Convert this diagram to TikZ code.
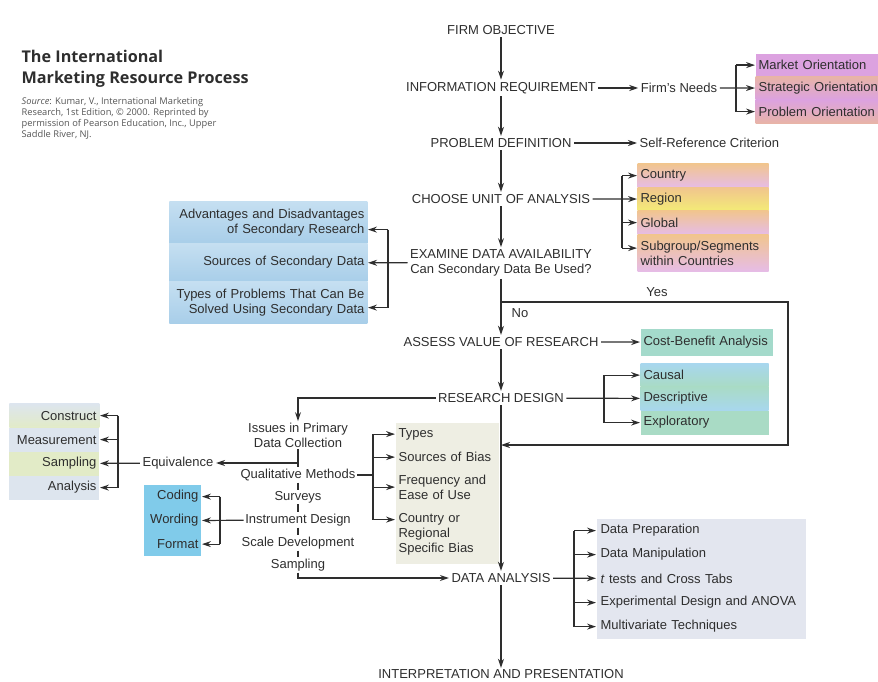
\documentclass[tikz,border=0pt]{standalone}
\usepackage{fontspec}
\setmainfont{Liberation Sans}
\newfontfamily\titlefont{Open Sans}
\usetikzlibrary{arrows.meta,positioning}

\definecolor{ink}{HTML}{2E2E2E}
\definecolor{greyink}{HTML}{555555}
\definecolor{mauve}{HTML}{DCA2E0}
\definecolor{salmon}{HTML}{E8B4A6}
\definecolor{tan}{HTML}{F1C58E}
\definecolor{lilac}{HTML}{E6BCE7}
\definecolor{lemon}{HTML}{F3EB76}
\definecolor{skyblue}{HTML}{A8CEE9}
\definecolor{skylight}{HTML}{C5DFF1}
\definecolor{teal}{HTML}{A4DACB}
\definecolor{seagreen}{HTML}{A9DBC5}
\definecolor{aqua}{HTML}{A8D7EE}
\definecolor{sage}{HTML}{E2EBC7}
\definecolor{mist}{HTML}{DDE5EE}
\definecolor{cyanbox}{HTML}{80CBEA}
\definecolor{beige}{HTML}{EEEEE3}
\definecolor{lavgray}{HTML}{E3E6EF}

\begin{document}
\begin{tikzpicture}[x=1pt, y=-1pt, line width=1.2pt, color=ink, >={Stealth[length=9pt,width=6pt]},
    font=\fontsize{13}{15}\selectfont]
    \tikzstyle{stage} = [inner sep=2pt, align=center]
    \tikzstyle{rowl} = [anchor=north west, align=left, inner xsep=3pt, inner ysep=0pt]
    \tikzstyle{rowr} = [anchor=north east, align=right, inner xsep=3pt, inner ysep=0pt]

    \useasboundingbox (0,0) rectangle (878,682);

    % Titre
    \node[anchor=north west, align=left, inner sep=0pt, font=\titlefont\bfseries\fontsize{16.2}{21}\selectfont] (title) at (21,50) {The International\\Marketing Resource Process};
    \node[anchor=north west, align=left, inner sep=0pt, text=greyink, font=\titlefont\fontsize{9.3}{11}\selectfont] (source) at (21,97) {\textit{Source}: Kumar, V., International Marketing\\Research, 1st Edition, © 2000. Reprinted by\\permission of Pearson Education, Inc., Upper\\Saddle River, NJ.};

    % Colonne principale
    \node[stage] (objective) at (501,30) {FIRM OBJECTIVE};
    \node[stage] (inforeq) at (501,88) {INFORMATION REQUIREMENT};
    \node[stage] (probdef) at (501,143) {PROBLEM DEFINITION};
    \node[stage] (unit) at (501,199) {CHOOSE UNIT OF ANALYSIS};
    \node[stage] (examine) at (501,263) {EXAMINE DATA AVAILABILITY\\Can Secondary Data Be Used?};
    \node[stage] (assess) at (501,342) {ASSESS VALUE OF RESEARCH};
    \node[stage] (design) at (501,398) {RESEARCH DESIGN};
    \node[stage] (analysis) at (501,578) {DATA ANALYSIS};
    \node[stage, inner sep=1pt] (interp) at (501,674) {INTERPRETATION AND PRESENTATION};

    % Besoins de la firme
    \node[stage] (needs) at (679,88) {Firm's Needs};
    \node[rowl, text width=150pt, minimum height=23pt, fill=mauve] (market) at (755,53) {Market Orientation};
    \node[rowl, text width=150pt, minimum height=23pt, top color=salmon, bottom color=mauve] (strategic) at (755,76) {Strategic Orientation};
    \node[rowl, text width=150pt, minimum height=24pt, top color=mauve, bottom color=salmon] (problem) at (755,99) {Problem Orientation};
    \node[stage, anchor=west] (selfref) at (637,143) {Self-Reference Criterion};

    % Unité d'analyse
    \node[rowl, text width=125pt, minimum height=24pt, top color=tan, bottom color=lilac] (country) at (637,163) {Country};
    \node[rowl, text width=125pt, minimum height=23pt, top color=tan, bottom color=lemon] (region) at (637,187) {Region};
    \node[rowl, text width=125pt, minimum height=24pt, top color=tan, bottom color=lilac] (global) at (637,210) {Global};
    \node[rowl, text width=125pt, minimum height=37pt, top color=tan, bottom color=lilac] (subgroup) at (637,234) {Subgroup/Segments\\within Countries};

    % Données secondaires
    \node[rowr, text width=192pt, minimum height=42pt, top color=skylight, bottom color=skyblue] (advantages) at (368,201) {Advantages and Disadvantages\\of Secondary Research};
    \node[rowr, text width=192pt, minimum height=38pt, top color=skylight, bottom color=skyblue] (sources) at (368,243) {Sources of Secondary Data};
    \node[rowr, text width=192pt, minimum height=42pt, top color=skylight, bottom color=skyblue] (problemtypes) at (368,281) {Types of Problems That Can Be\\Solved Using Secondary Data};

    \node (yes) at (657,292) {Yes};
    \node (no) at (520,313) {No};

    \node[rowl, text width=126pt, minimum height=27pt, fill=teal] (costben) at (640,328) {Cost-Benefit Analysis};

    % Plan de recherche
    \node[rowl, text width=122pt, minimum height=23pt, top color=aqua, bottom color=seagreen] (causal) at (640,363) {Causal};
    \node[rowl, text width=122pt, minimum height=24pt, top color=seagreen, bottom color=aqua] (descriptive) at (640,386) {Descriptive};
    \node[rowl, text width=122pt, minimum height=24pt, fill=seagreen] (exploratory) at (640,410) {Exploratory};

    % Données primaires
    \node[stage, inner sep=1pt] (issues) at (298,435) {Issues in Primary\\Data Collection};
    \node[stage, inner sep=1pt] (qualm) at (298,475) {Qualitative Methods};
    \node[stage, inner sep=1pt] (surveys) at (298,497) {Surveys};
    \node[stage, inner sep=1pt] (instr) at (298,520) {Instrument Design};
    \node[stage, inner sep=1pt] (scale) at (298,543) {Scale Development};
    \node[stage, inner sep=1pt] (sampl) at (298,565) {Sampling};

    \node[stage] (equiv) at (178,463) {Equivalence};
    \node[rowr, text width=84pt, minimum height=24pt, top color=mist, bottom color=sage] (construct) at (100,403) {Construct};
    \node[rowr, text width=84pt, minimum height=24pt, fill=mist] (measurement) at (100,427) {Measurement};
    \node[rowr, text width=84pt, minimum height=24pt, fill=sage] (samplingeq) at (100,451) {Sampling};
    \node[rowr, text width=84pt, minimum height=24pt, fill=mist] (analysiseq) at (100,475) {Analysis};

    \node[rowr, text width=51pt, minimum height=24pt, fill=cyanbox] (coding) at (202,484) {Coding};
    \node[rowr, text width=51pt, minimum height=24pt, fill=cyanbox] (wording) at (202,508) {Wording};
    \node[rowr, text width=51pt, minimum height=23pt, fill=cyanbox] (format) at (202,532) {Format};

    \node[rowl, text width=97pt, minimum height=23pt, fill=beige] (types) at (395,422) {Types};
    \node[rowl, text width=97pt, minimum height=23pt, fill=beige] (biassrc) at (395,445) {Sources of Bias};
    \node[rowl, text width=97pt, minimum height=37pt, fill=beige] (frequency) at (395,468) {Frequency and\\Ease of Use};
    \node[rowl, text width=97pt, minimum height=58pt, fill=beige] (regional) at (395,505) {Country or\\Regional\\Specific Bias};

    % Analyse des données
    \node[rowl, text width=201pt, inner xsep=4pt, minimum height=24pt, fill=lavgray] (prep) at (596,518) {Data Preparation};
    \node[rowl, text width=201pt, inner xsep=4pt, minimum height=24pt, fill=lavgray] (manip) at (596,542) {Data Manipulation};
    \node[rowl, text width=201pt, inner xsep=4pt, minimum height=24pt, fill=lavgray] (ttests) at (596,566) {\textit{t} tests and Cross Tabs};
    \node[rowl, text width=201pt, inner xsep=4pt, minimum height=24pt, fill=lavgray] (experimental) at (596,590) {Experimental Design and ANOVA};
    \node[rowl, text width=201pt, inner xsep=4pt, minimum height=24pt, fill=lavgray] (multivar) at (596,614) {Multivariate Techniques};

    % Points de branchement
    \coordinate (needsbrk) at (736,88);
    \coordinate (unitbrk) at (622,199);
    \coordinate (secbrk) at (388,263);
    \coordinate (yesbend) at (788,302);
    \coordinate (yesend) at (788,445);
    \coordinate (designbrk) at (604,398);
    \coordinate (eqbrk) at (118,463);
    \coordinate (instbrk) at (220,520);
    \coordinate (qualbrk) at (373,475);
    \coordinate (anbrk) at (574,578);
    \coordinate (advin) at ([yshift=-7pt]advantages.east);
    \coordinate (typesin) at ([yshift=-5pt]problemtypes.east);
    \coordinate (subin) at ([yshift=5pt]subgroup.west);
    \coordinate (regionalin) at ([yshift=15pt]regional.west);

    % Flèches
    \draw[->] (objective) -- (inforeq);
    \draw[->] (inforeq) -- (probdef);
    \draw[->] (probdef) -- (unit);
    \draw[->] (unit) -- (examine);
    \draw[->] (examine) -- (assess);
    \draw[->] (assess) -- (design);
    \draw[->] (design) -- (analysis);
    \draw[->] (analysis) -- (interp);

    \draw[->] (inforeq) -- (needs);
    \draw[->] (needs) -- (strategic);
    \draw (needsbrk |- market) -- (needsbrk |- problem);
    \draw[->] (needsbrk |- market) -- (market);
    \draw[->] (needsbrk |- problem) -- (problem);

    \draw[->] (probdef) -- (selfref);

    \draw[->] (unit) -- (region);
    \draw (unitbrk |- country) -- (unitbrk |- subin);
    \draw[->] (unitbrk |- country) -- (country);
    \draw[->] (unitbrk |- global) -- (global);
    \draw[->] (unitbrk |- subin) -- (subin);

    \draw[->] (examine) -- (sources);
    \draw (secbrk |- advin) -- (secbrk |- typesin);
    \draw[->] (secbrk |- advin) -- (advin);
    \draw[->] (secbrk |- typesin) -- (typesin);

    \draw[->] (examine.south |- yesbend) -| (yesend) -- (design.south |- yesend);

    \draw[->] (assess) -- (costben);

    \draw[->] (design) -- (descriptive);
    \draw (designbrk |- causal) -- (designbrk |- exploratory);
    \draw[->] (designbrk |- causal) -- (causal);
    \draw[->] (designbrk |- exploratory) -- (exploratory);

    \draw[->] (design.west) -| (issues.north);
    \draw (issues) -- (qualm);
    \draw (qualm) -- (surveys);
    \draw (surveys) -- (instr);
    \draw (instr) -- (scale);
    \draw (scale) -- (sampl);
    \draw[->] (sampl.south) |- (analysis.west);

    \draw[->] (issues.south |- equiv) -- (equiv);
    \draw[->] (equiv) -- (samplingeq);
    \draw (eqbrk |- construct) -- (eqbrk |- analysiseq);
    \draw[->] (eqbrk |- construct) -- (construct);
    \draw[->] (eqbrk |- measurement) -- (measurement);
    \draw[->] (eqbrk |- analysiseq) -- (analysiseq);

    \draw[->] (instr) -- (wording);
    \draw (instbrk |- coding) -- (instbrk |- format);
    \draw[->] (instbrk |- coding) -- (coding);
    \draw[->] (instbrk |- format) -- (format);

    \draw (qualm) -- (qualbrk);
    \draw (qualbrk |- types) -- (qualbrk |- regionalin);
    \draw[->] (qualbrk |- types) -- (types);
    \draw[->] (qualbrk |- biassrc) -- (biassrc);
    \draw[->] (qualbrk |- frequency) -- (frequency);
    \draw[->] (qualbrk |- regionalin) -- (regionalin);

    \draw[->] (analysis) -- (ttests);
    \draw (anbrk |- prep) -- (anbrk |- multivar);
    \draw[->] (anbrk |- prep) -- (prep);
    \draw[->] (anbrk |- manip) -- (manip);
    \draw[->] (anbrk |- experimental) -- (experimental);
    \draw[->] (anbrk |- multivar) -- (multivar);
\end{tikzpicture}
\end{document}
